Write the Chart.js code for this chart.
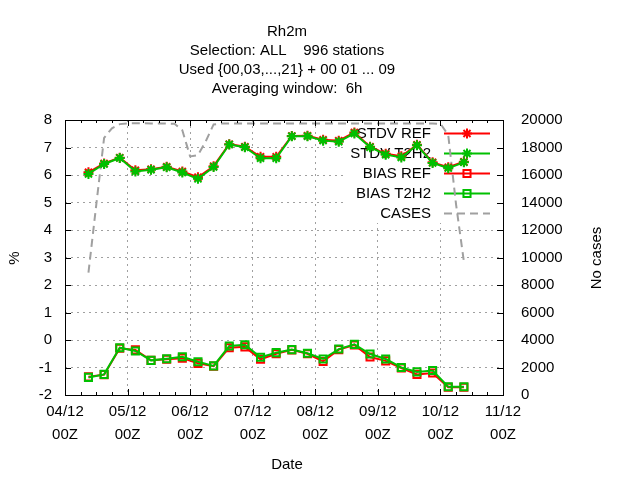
<!DOCTYPE html>
<html lang="en">
<head>
  <meta charset="UTF-8">
  <title>Rh2m</title>
  <style>
    body {
      margin: 0;
      background: #fff;
    }
    #wrap {
      width: 640px;
      height: 480px;
    }
  </style>
</head>
<body>
<div id="wrap">
  <canvas id="myChart" width="640" height="480"></canvas>
</div>

<script src="https://cdn.jsdelivr.net/npm/chart.js"></script>
<script>
  // valid times, hours after 04/12 00Z
  const hours = [9, 15, 21, 27, 33, 39, 45, 51, 57, 63, 69, 75, 81, 87, 93, 99, 105, 111, 117, 123, 129, 135, 141, 147, 153];

  const stdvRef  = [6.10, 6.42, 6.63, 6.17, 6.21, 6.30, 6.13, 5.92, 6.32, 7.12, 7.03, 6.66, 6.66, 7.42, 7.43, 7.28, 7.25, 7.55, 7.03, 6.77, 6.68, 7.10, 6.46, 6.28, 6.48];
  const stdvT2h2 = [6.04, 6.40, 6.62, 6.13, 6.19, 6.28, 6.09, 5.86, 6.29, 7.11, 7.01, 6.61, 6.61, 7.41, 7.41, 7.25, 7.21, 7.51, 7.01, 6.74, 6.64, 7.08, 6.44, 6.25, 6.46];
  const biasRef  = [-1.34, -1.26, -0.30, -0.36, -0.74, -0.70, -0.66, -0.85, -0.95, -0.28, -0.25, -0.70, -0.50, -0.36, -0.50, -0.78, -0.35, -0.18, -0.62, -0.76, -1.02, -1.25, -1.20, -1.72, -1.72];
  const biasT2h2 = [-1.36, -1.25, -0.28, -0.40, -0.74, -0.68, -0.61, -0.79, -0.94, -0.22, -0.17, -0.63, -0.46, -0.35, -0.48, -0.69, -0.33, -0.16, -0.51, -0.69, -1.00, -1.16, -1.11, -1.70, -1.70];

  // number of cases, every 3 h
  const caseHours = [9, 12, 15, 18, 21, 24, 27, 30, 33, 36, 39, 42, 45, 48, 51, 54, 57, 60, 63, 66, 69, 72, 75, 78, 81, 84,
    87, 90, 93, 96, 99, 102, 105, 108, 111, 114, 117, 120, 123, 126, 129, 132, 135, 138, 141, 144, 147, 150, 153];
  const cases = [8900, 13850, 18700, 19400, 19700, 19750, 19760, 19760, 19750, 19750, 19740, 19720, 19250, 17350, 17450, 18450, 19680,
    19740, 19750, 19750, 19740, 19740, 19750, 19750, 19740, 19740, 19750, 19750, 19740, 19740, 19740, 19750, 19750, 19740, 19740,
    19740, 19750, 19750, 19740, 19740, 19740, 19750, 19740, 19740, 19740, 19730, 18900, 13850, 9700];

  const dayLabels = ['04/12', '05/12', '06/12', '07/12', '08/12', '09/12', '10/12', '11/12'];
  const titleLines = ['Rh2m', 'Selection: ALL    996 stations', 'Used {00,03,...,21} + 00 01 ... 09', 'Averaging window:  6h'];

  const FONT = '15px "Liberation Sans", Arial, sans-serif';
  const RED = '#ff0000';
  const GREEN = '#00c000';
  const GREY = '#a0a0a0';

  function pts(xs, ys) {
    return xs.map((x, i) => ({ x: x, y: ys[i] }));
  }

  function marker(ctx, style, x, y, r) {
    ctx.beginPath();
    if (style === 'star') {
      const d = r * Math.SQRT1_2;
      ctx.moveTo(x - r, y); ctx.lineTo(x + r, y);
      ctx.moveTo(x, y - r); ctx.lineTo(x, y + r);
      ctx.moveTo(x - d, y - d); ctx.lineTo(x + d, y + d);
      ctx.moveTo(x - d, y + d); ctx.lineTo(x + d, y - d);
    } else if (style === 'rect') {
      const s = r * Math.SQRT1_2;
      ctx.rect(x - s, y - s, 2 * s, 2 * s);
    }
    ctx.stroke();
  }

  // key sits on an opaque box: grid hidden, curves still drawn over it
  const keyPlugin = {
    id: 'key',
    beforeDatasetsDraw(chart) {
      const ctx = chart.ctx;
      ctx.save();
      ctx.fillStyle = '#fff';
      ctx.fillRect(347, chart.chartArea.top + 1, 153, 102);
      ctx.font = FONT;
      ctx.textAlign = 'right';
      ctx.textBaseline = 'middle';
      chart.data.datasets.forEach((ds, i) => {
        const y = 133.5 + i * 20;
        ctx.fillStyle = '#000';
        ctx.fillText(ds.label, 431, y);
        ctx.strokeStyle = ds.borderColor;
        ctx.lineWidth = 2;
        ctx.setLineDash(ds.borderDash || []);
        ctx.beginPath();
        ctx.moveTo(444, y);
        ctx.lineTo(490, y);
        ctx.stroke();
        ctx.setLineDash([]);
        if (ds.pointRadius) marker(ctx, ds.pointStyle, 467, y, ds.pointRadius);
      });
      ctx.restore();
    }
  };

  // frame, inward tics, tic labels and titles in gnuplot style
  const framePlugin = {
    id: 'frame',
    afterDraw(chart) {
      const { ctx, chartArea: a, scales } = chart;
      const xs = scales.x, ys = scales.y, y2 = scales.y2;
      ctx.save();
      ctx.strokeStyle = '#000';
      ctx.lineWidth = 1;
      ctx.strokeRect(Math.round(a.left) + 0.5, Math.round(a.top) + 0.5, Math.round(a.right - a.left), Math.round(a.bottom - a.top));

      ctx.beginPath();
      for (let h = 0; h <= 168; h += 6) {
        const px = Math.round(xs.getPixelForValue(h)) + 0.5;
        const len = h % 24 === 0 ? 6 : 3;
        ctx.moveTo(px, a.bottom); ctx.lineTo(px, a.bottom - len);
        ctx.moveTo(px, a.top); ctx.lineTo(px, a.top + len);
      }
      ys.ticks.forEach(t => {
        const py = Math.round(ys.getPixelForValue(t.value)) + 0.5;
        ctx.moveTo(a.left, py); ctx.lineTo(a.left + 6, py);
      });
      y2.ticks.forEach(t => {
        const py = Math.round(y2.getPixelForValue(t.value)) + 0.5;
        ctx.moveTo(a.right, py); ctx.lineTo(a.right - 6, py);
      });
      ctx.stroke();

      ctx.fillStyle = '#000';
      ctx.font = FONT;
      ctx.textBaseline = 'middle';

      ctx.textAlign = 'center';
      dayLabels.forEach((d, i) => {
        const px = xs.getPixelForValue(i * 24);
        ctx.fillText(d, px, 412);
        ctx.fillText('00Z', px, 435);
      });
      ctx.textAlign = 'right';
      ys.ticks.forEach(t => ctx.fillText(String(t.value), 52, ys.getPixelForValue(t.value)));
      ctx.textAlign = 'left';
      y2.ticks.forEach(t => ctx.fillText(String(t.value), 521, y2.getPixelForValue(t.value)));

      ctx.textAlign = 'center';
      titleLines.forEach((s, i) => ctx.fillText(s, 287, 32 + i * 19));
      ctx.fillText('Date', 287, 465);

      ctx.save();
      ctx.translate(15, 258);
      ctx.rotate(-Math.PI / 2);
      ctx.fillText('%', 0, 0);
      ctx.restore();
      ctx.save();
      ctx.translate(597, 258);
      ctx.rotate(-Math.PI / 2);
      ctx.fillText('No cases', 0, 0);
      ctx.restore();

      ctx.restore();
    }
  };

  const grid = { color: GREY, lineWidth: 1, drawTicks: false };
  const border = { display: false, dash: [2, 4] };

  new Chart(document.getElementById('myChart'), {
    type: 'line',
    data: {
      datasets: [
        { label: 'STDV REF', data: pts(hours, stdvRef), yAxisID: 'y', order: 4,
          borderColor: RED, backgroundColor: RED, borderWidth: 2,
          pointStyle: 'star', pointRadius: 5, pointBorderWidth: 2 },
        { label: 'STDV T2H2', data: pts(hours, stdvT2h2), yAxisID: 'y', order: 3,
          borderColor: GREEN, backgroundColor: GREEN, borderWidth: 2,
          pointStyle: 'star', pointRadius: 5, pointBorderWidth: 2 },
        { label: 'BIAS REF', data: pts(hours, biasRef), yAxisID: 'y', order: 2,
          borderColor: RED, backgroundColor: 'rgba(0,0,0,0)', borderWidth: 2,
          pointStyle: 'rect', pointRadius: 5, pointBorderWidth: 2 },
        { label: 'BIAS T2H2', data: pts(hours, biasT2h2), yAxisID: 'y', order: 1,
          borderColor: GREEN, backgroundColor: 'rgba(0,0,0,0)', borderWidth: 2,
          pointStyle: 'rect', pointRadius: 5, pointBorderWidth: 2 },
        { label: 'CASES', data: pts(caseHours, cases), yAxisID: 'y2', order: 5,
          borderColor: GREY, borderWidth: 2, borderDash: [8, 5], pointRadius: 0 }
      ]
    },
    options: {
      responsive: false,
      animation: false,
      devicePixelRatio: 1,
      layout: { padding: { left: 65, right: 129, top: 120, bottom: 85 } },
      plugins: {
        legend: { display: false },
        title: { display: false },
        tooltip: { enabled: false }
      },
      elements: { line: { tension: 0 } },
      scales: {
        x: { type: 'linear', min: 0, max: 168,
             ticks: { display: false, stepSize: 24 }, grid: grid, border: border },
        y: { type: 'linear', position: 'left', min: -2, max: 8,
             ticks: { display: false, stepSize: 1 }, grid: grid, border: border },
        y2: { type: 'linear', position: 'right', min: 0, max: 20000,
              ticks: { display: false, stepSize: 2000 }, grid: { display: false }, border: { display: false } }
      }
    },
    plugins: [keyPlugin, framePlugin]
  });
</script>
</body>
</html>
